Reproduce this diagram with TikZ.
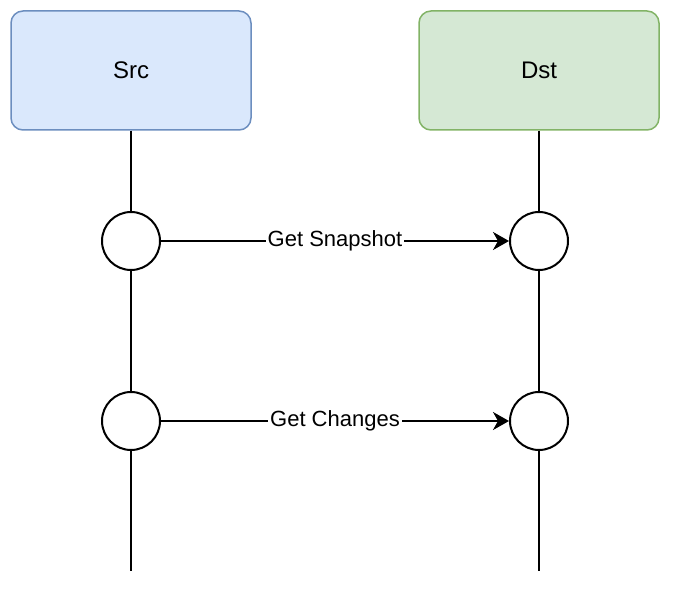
\documentclass[tikz,border=0pt]{standalone}
\usepackage{fontspec}
\setmainfont{Liberation Sans}
\usepackage{tikz}
\usetikzlibrary{positioning,arrows.meta}
\definecolor{cBlueFill}{HTML}{DAE8FC}
\definecolor{cBlueLine}{HTML}{6C8EBF}
\definecolor{cGreenFill}{HTML}{D5E8D4}
\definecolor{cGreenLine}{HTML}{82B366}

\begin{document}
\begin{tikzpicture}[
  x=0.5pt, y=-0.5pt,
  font=\fontsize{11pt}{13pt}\selectfont,
  >={Stealth[length=8pt, width=9pt, inset=2.5pt]},
  actor/.style={draw=cBlueLine, fill=cBlueFill, rounded corners=6pt, minimum width=120pt,
                minimum height=59.5pt, line width=0.75pt, font=\fontsize{12pt}{14pt}\selectfont},
  dstactor/.style={actor, draw=cGreenLine, fill=cGreenFill},
  pt/.style={draw, circle, fill=white, minimum size=29pt, inner sep=0pt, line width=1pt},
  life/.style={draw, line width=1pt},
  msg/.style={->, draw, line width=1pt},
  lbl/.style={fill=white, inner sep=1pt},
]
\useasboundingbox (0,0) rectangle (690,604);
\node[actor] (src) at (131,70.5) {Src};
\node[dstactor] (dst) at (539,70.5) {Dst};
\node[pt] (s1) at (131,241) {};
\node[pt] (d1) at (539,241) {};
\node[pt] (s2) at (131,421) {};
\node[pt] (d2) at (539,421) {};
\coordinate (sEnd) at (131,571);
\coordinate (dEnd) at (539,571);

% lifelines
\draw[life] (src) -- (s1);
\draw[life] (s1) -- (s2);
\draw[life] (s2) -- (sEnd);
\draw[life] (dst) -- (d1);
\draw[life] (d1) -- (d2);
\draw[life] (d2) -- (dEnd);

% messages
\draw[msg] (s1) -- node[lbl] (snap) {Get Snapshot} (d1);
\draw[msg] (s2) -- node[lbl] (chg) {Get Changes} (d2);
\end{tikzpicture}
\end{document}
